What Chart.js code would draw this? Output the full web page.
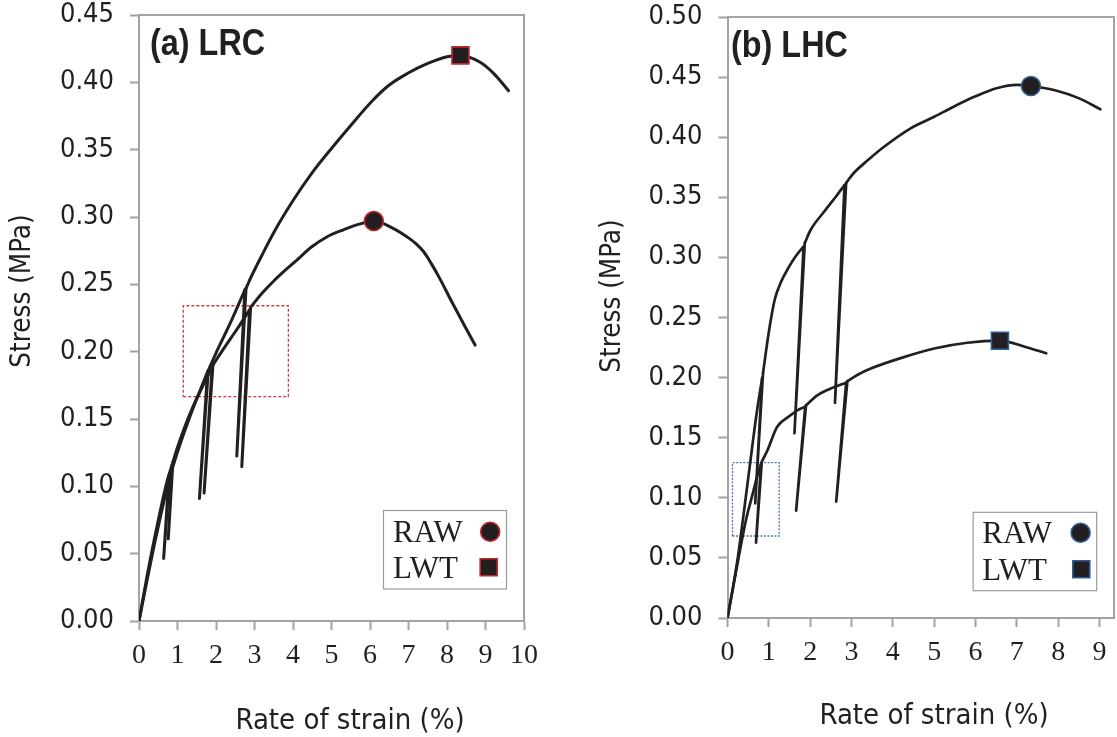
<!DOCTYPE html>
<html><head><meta charset="utf-8">
<script src="https://cdn.jsdelivr.net/npm/chart.js@4.4.1/dist/chart.umd.min.js"></script>
<style>
html,body{margin:0;padding:0;background:#fff;}
#wrap{position:relative;width:1117px;height:737px;overflow:hidden;background:#fff;}
canvas{position:absolute;top:0;}
#c1{left:0;} #c2{left:560px;}
</style></head><body>
<div id="wrap"><canvas id="c1" width="560" height="737"></canvas><canvas id="c2" width="557" height="737"></canvas></div>
<script>
// ---------- DATA ----------
// (a) LRC  (a point whose x is smaller than the previous one is the bottom of an unload/reload cycle)
const lrcRawX = [0, 0.2, 0.4, 0.6, 0.75, 0.86, 0.76, 0.88, 1.0, 1.2, 1.4, 1.6, 1.9, 1.69, 1.92, 2.1, 2.36, 2.6, 2.87, 2.67, 2.9, 3.2, 3.5, 3.8, 4.1, 4.47, 4.9, 5.31, 5.7, 6.10, 6.6, 7.0, 7.2, 7.4, 7.6, 7.8, 8.1, 8.47, 8.73];
const lrcRawY = [0, 0.032, 0.061, 0.088, 0.106, 0.116, 0.061, 0.118, 0.129, 0.145, 0.159, 0.171, 0.189, 0.095, 0.190, 0.198, 0.209, 0.219, 0.231, 0.1146, 0.233, 0.2435, 0.2525, 0.2605, 0.268, 0.2775, 0.2855, 0.2905, 0.2945, 0.297, 0.2916, 0.2845, 0.280, 0.274, 0.265, 0.255, 0.2384, 0.2185, 0.2049];
const lrcLwtX = [0, 0.2, 0.4, 0.6, 0.77, 0.64, 0.79, 0.95, 1.1, 1.3, 1.5, 1.78, 1.57, 1.80, 2.0, 2.2, 2.4, 2.6, 2.75, 2.54, 2.78, 2.92, 3.2, 3.53, 4.01, 4.5, 5.03, 5.5, 6.05, 6.5, 6.98, 7.5, 8.0, 8.35, 8.84, 9.21, 9.60];
const lrcLwtY = [0, 0.029, 0.057, 0.083, 0.104, 0.0465, 0.106, 0.121, 0.134, 0.150, 0.165, 0.185, 0.091, 0.186, 0.199, 0.211, 0.223, 0.236, 0.246, 0.1225, 0.247, 0.256, 0.272, 0.290, 0.3126, 0.333, 0.352, 0.368, 0.386, 0.398, 0.4067, 0.414, 0.419, 0.42, 0.4153, 0.4067, 0.3938];
const lrcRawPeak = [6.10, 0.297];
const lrcLwtPeak = [8.35, 0.420];
const lrcBoxX = [1.15, 3.88];
const lrcBoxY = [0.1666, 0.2341];
const lrcXTicks = [0, 1, 2, 3, 4, 5, 6, 7, 8, 9, 10];
const lrcYTicks = [0, 0.05, 0.10, 0.15, 0.20, 0.25, 0.30, 0.35, 0.40, 0.45];

// (b) LHC
const lhcRawX = [0, 0.24, 0.5, 0.7, 0.84, 0.67, 0.86, 1.0, 1.14, 1.3, 1.49, 1.65, 1.84, 1.62, 1.87, 2.01, 2.36, 2.61, 2.83, 2.60, 2.87, 3.05, 3.4, 3.74, 4.43, 5.0, 5.47, 6.0, 6.51, 7.0, 7.34, 7.9, 8.51, 9.02];
const lhcRawY = [0, 0.048, 0.116, 0.169, 0.200, 0.0954, 0.204, 0.238, 0.2646, 0.280, 0.2923, 0.301, 0.309, 0.1537, 0.312, 0.3228, 0.339, 0.350, 0.3602, 0.179, 0.362, 0.370, 0.381, 0.3908, 0.4074, 0.417, 0.4254, 0.434, 0.4407, 0.4435, 0.4426, 0.4393, 0.4323, 0.4232];
const lhcLwtX = [0, 0.15, 0.3, 0.45, 0.6, 0.72, 0.81, 0.69, 0.83, 0.97, 1.2, 1.5, 1.7, 1.88, 1.66, 1.9, 2.18, 2.5, 2.87, 2.63, 2.9, 3.14, 3.48, 4.17, 5.03, 5.8, 6.59, 7.19, 7.71];
const lhcLwtY = [0, 0.028, 0.056, 0.082, 0.102, 0.118, 0.128, 0.0627, 0.130, 0.1398, 0.159, 0.168, 0.173, 0.1758, 0.0893, 0.177, 0.1855, 0.191, 0.1958, 0.0968, 0.197, 0.2022, 0.2077, 0.216, 0.2244, 0.229, 0.2307, 0.2257, 0.2202];
const lhcRawPeak = [7.34, 0.4426];
const lhcLwtPeak = [6.59, 0.2307];
const lhcBoxX = [0.12, 1.25];
const lhcBoxY = [0.0682, 0.1292];
const lhcXTicks = [0, 1, 2, 3, 4, 5, 6, 7, 8, 9];
const lhcYTicks = [0, 0.05, 0.10, 0.15, 0.20, 0.25, 0.30, 0.35, 0.40, 0.45, 0.50];

const legendLabels = ['RAW', 'LWT'];
const panelTitles = ['(a) LRC', '(b) LHC'];
const xAxisTitle = 'Rate of strain (%)';
const yAxisTitle = 'Stress (MPa)';

// ---------- HELPERS ----------
const INK = '#231f20';
const AXIS = '#a3a3a3';
const SANS = '"DejaVu Sans Condensed", "DejaVu Sans", sans-serif';
const SERIF = '"Liberation Serif", "Times New Roman", serif';

function rectPts(bx, by) {
  return [{x: bx[0], y: by[0]}, {x: bx[1], y: by[0]}, {x: bx[1], y: by[1]}, {x: bx[0], y: by[1]}, {x: bx[0], y: by[0]}];
}
// split a loading curve into smooth loading parts and straight unload/reload cycles
function splitCurve(xs, ys) {
  const smooth = [], cycles = [];
  let cur = [{x: xs[0], y: ys[0]}];
  for (let i = 1; i < xs.length; i++) {
    if (xs[i] < xs[i - 1] && i + 1 < xs.length) {
      smooth.push(cur);
      cycles.push([{x: xs[i - 1], y: ys[i - 1]}, {x: xs[i], y: ys[i]}, {x: xs[i + 1], y: ys[i + 1]}]);
      cur = [{x: xs[i + 1], y: ys[i + 1]}];
      i++;
    } else {
      cur.push({x: xs[i], y: ys[i]});
    }
  }
  smooth.push(cur);
  return {smooth, cycles};
}

function drawMarker(ctx, style, x, y, size, accent) {
  ctx.save();
  ctx.fillStyle = INK; ctx.strokeStyle = accent; ctx.lineWidth = 1.6;
  ctx.beginPath();
  if (style === 'circle') ctx.arc(x, y, size, 0, Math.PI * 2);
  else ctx.rect(x - size, y - size, size * 2, size * 2);
  ctx.fill(); ctx.stroke();
  ctx.restore();
}

function makePanel(canvas, p) {
  const W = canvas.width, H = canvas.height;
  const decor = {
    id: 'decor' + p.key,
    beforeDatasetsDraw(chart) {
      const {ctx, chartArea: a} = chart;
      ctx.save();
      ctx.strokeStyle = AXIS; ctx.lineWidth = 2;
      ctx.beginPath();
      ctx.moveTo(a.left, a.top); ctx.lineTo(a.right, a.top); ctx.lineTo(a.right, a.bottom);
      ctx.stroke();
      ctx.restore();
    },
    afterDraw(chart) {
      const ctx = chart.ctx;
      ctx.save();
      ctx.fillStyle = INK;
      // panel title
      ctx.save();
      ctx.font = 'bold 36px "Liberation Sans", Arial, sans-serif';
      ctx.textAlign = 'left'; ctx.textBaseline = 'alphabetic';
      ctx.translate(p.titlePos[0], p.titlePos[1]);
      ctx.scale(0.9, 1);
      ctx.fillText(p.title, 0, 0);
      ctx.restore();
      // x title
      ctx.font = '29px ' + SANS;
      ctx.textAlign = 'center'; ctx.textBaseline = 'middle';
      ctx.fillText(xAxisTitle, p.xTitlePos[0], p.xTitlePos[1]);
      // y title
      ctx.save();
      ctx.font = '27.5px ' + SANS;
      ctx.translate(p.yTitlePos[0], p.yTitlePos[1]);
      ctx.rotate(-Math.PI / 2);
      ctx.textAlign = 'center'; ctx.textBaseline = 'middle';
      ctx.fillText(yAxisTitle, 0, 0);
      ctx.restore();
      // legend
      const L = p.legend;
      ctx.strokeStyle = '#9a9a9a'; ctx.lineWidth = 1.2;
      ctx.fillStyle = '#fff';
      ctx.fillRect(L.box[0], L.box[1], L.box[2], L.box[3]);
      ctx.strokeRect(L.box[0], L.box[1], L.box[2], L.box[3]);
      ctx.fillStyle = INK;
      ctx.font = '31px ' + SERIF;
      ctx.textAlign = 'left'; ctx.textBaseline = 'alphabetic';
      ctx.fillText(legendLabels[0], L.textX, L.base[0]);
      ctx.fillText(legendLabels[1], L.textX, L.base[1]);
      drawMarker(ctx, 'circle', L.mk[0][0], L.mk[0][1], 9.5, p.accent);
      drawMarker(ctx, 'rect', L.mk[1][0], L.mk[1][1], 8.5, p.accent);
      ctx.restore();
    }
  };
  const smoothDs = (data) => ({data: data, showLine: true, pointRadius: 0, borderColor: INK, borderWidth: p.lw,
    borderJoinStyle: 'round', borderCapStyle: 'round', cubicInterpolationMode: 'monotone', fill: false, order: 2});
  const straightDs = (data) => ({data: data, showLine: true, pointRadius: 0, borderColor: INK, borderWidth: p.lw,
    borderJoinStyle: 'round', borderCapStyle: 'round', tension: 0, fill: false, order: 2});
  const datasets = [
    {data: [{x: p.rawPeak[0], y: p.rawPeak[1]}], pointStyle: 'circle', pointRadius: 9.5, backgroundColor: INK, borderColor: p.accent, borderWidth: 1.6, order: 0},
    {data: [{x: p.lwtPeak[0], y: p.lwtPeak[1]}], pointStyle: 'rect', pointRadius: 12, backgroundColor: INK, borderColor: p.accent, borderWidth: 1.6, order: 0},
    {data: p.box, showLine: true, pointRadius: 0, borderColor: p.boxColor, borderWidth: 1.3, borderDash: p.boxDash, tension: 0, fill: false, order: 3}
  ];
  [p.raw, p.lwt].forEach(c => {
    const s = splitCurve(c[0], c[1]);
    s.smooth.forEach(seg => datasets.push(smoothDs(seg)));
    s.cycles.forEach(seg => datasets.push(straightDs(seg)));
  });
  const pad = {left: 0, top: p.area.top, right: W - p.area.right, bottom: p.bottomPad};
  const opts = {
    responsive: false, animation: false, devicePixelRatio: 1, events: [],
    layout: {autoPadding: false, padding: pad},
    plugins: {legend: {display: false}, tooltip: {enabled: false}},
    scales: {
      x: {
        type: 'linear', min: 0, max: p.xMax,
        afterFit(s) { s.height = H - p.area.bottom - pad.bottom; s.paddingLeft = 0; s.paddingRight = 0; },
        afterBuildTicks(s) { s.ticks = p.xTicks.map(v => ({value: v})); },
        grid: {drawOnChartArea: false, drawTicks: true, tickLength: 9, tickWidth: 2, tickColor: AXIS},
        border: {display: true, color: AXIS, width: 2},
        ticks: {padding: 9, color: INK, autoSkip: false, maxRotation: 0,
          font: {family: SERIF, size: 28}, callback: (v) => String(v)}
      },
      y: {
        type: 'linear', min: 0, max: p.yMax,
        afterFit(s) { s.width = p.area.left - pad.left; s.paddingTop = 0; s.paddingBottom = 0; },
        afterBuildTicks(s) { s.ticks = p.yTicks.map(v => ({value: v})); },
        grid: {drawOnChartArea: false, drawTicks: true, tickLength: 9, tickWidth: 2, tickColor: AXIS},
        border: {display: true, color: AXIS, width: 2},
        ticks: {padding: 16, color: INK, autoSkip: false,
          font: {family: SANS, size: 27}, callback: (v) => Number(v).toFixed(2)}
      }
    }
  };
  const chart = new Chart(canvas, {type: 'scatter', data: {datasets: datasets}, options: opts, plugins: [decor]});
  // nudge layout padding so the plot area lands exactly where wanted
  for (let k = 0; k < 6; k++) {
    const a = chart.chartArea;
    const dt = p.area.top - a.top, dr = a.right - p.area.right, db = a.bottom - p.area.bottom, dl = p.area.left - a.left;
    if (Math.abs(dt) < 0.2 && Math.abs(dr) < 0.2 && Math.abs(db) < 0.2 && Math.abs(dl) < 0.2) break;
    pad.top += dt; pad.right += dr; pad.bottom += db; pad.left += dl;
    chart.options.layout.padding = {left: pad.left, top: pad.top, right: pad.right, bottom: pad.bottom};
    chart.update();
  }
  return chart;
}

makePanel(document.getElementById('c1'), {
  key: 'a', title: panelTitles[0], accent: '#c1272d', lw: 3,
  raw: [lrcRawX, lrcRawY], lwt: [lrcLwtX, lrcLwtY],
  rawPeak: lrcRawPeak, lwtPeak: lrcLwtPeak,
  box: rectPts(lrcBoxX, lrcBoxY), boxColor: '#d2393c', boxDash: [3, 2],
  xMax: 10, yMax: 0.45, xTicks: lrcXTicks, yTicks: lrcYTicks,
  area: {left: 139, top: 15, right: 524, bottom: 621}, bottomPad: 0,
  titlePos: [150, 55], xTitlePos: [350, 721], yTitlePos: [22.5, 291],
  legend: {box: [383.5, 510.5, 123, 78.5], textX: 393, base: [541.7, 578.3], mk: [[490.2, 531.7], [488.7, 567.3]]}
});

makePanel(document.getElementById('c2'), {
  key: 'b', title: panelTitles[1], accent: '#2f5f98', lw: 2.7,
  raw: [lhcRawX, lhcRawY], lwt: [lhcLwtX, lhcLwtY],
  rawPeak: lhcRawPeak, lwtPeak: lhcLwtPeak,
  box: rectPts(lhcBoxX, lhcBoxY), boxColor: '#4a74ad', boxDash: [2, 1.5],
  xMax: 9.35, yMax: 0.50, xTicks: lhcXTicks, yTicks: lhcYTicks,
  area: {left: 167.5, top: 17, right: 554, bottom: 618}, bottomPad: 4,
  titlePos: [171, 56.5], xTitlePos: [374, 716.7], yTitlePos: [52.8, 296],
  legend: {box: [413.2, 512.3, 123.5, 78.4], textX: 422.2, base: [543.3, 580], mk: [[520.6, 532.7], [521.3, 569.3]]}
});
</script>
</body></html>
